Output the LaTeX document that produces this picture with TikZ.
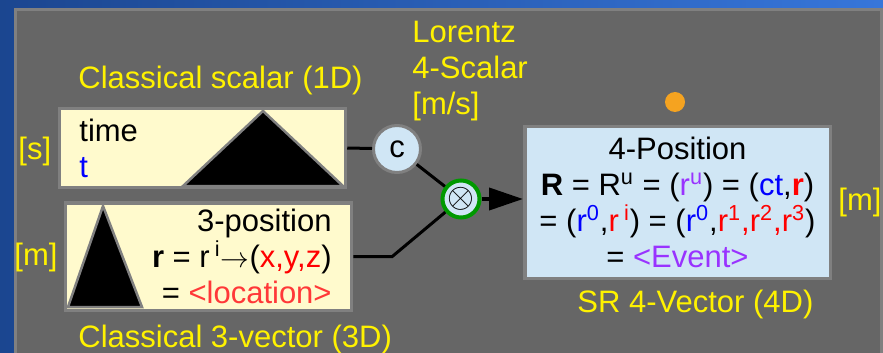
\documentclass[tikz,border=0pt]{standalone}
\usepackage{fontspec}
\setmainfont{Liberation Sans}
\usetikzlibrary{positioning,arrows.meta,calc}
\definecolor{panelgray}{HTML}{666666}
\definecolor{edgegray}{HTML}{808080}
\definecolor{lemon}{HTML}{FFFACD}
\definecolor{paleblue}{HTML}{D0E6F5}
\definecolor{bgdark}{HTML}{1B4690}
\definecolor{bglight}{HTML}{3776DA}
\definecolor{evpurple}{HTML}{9933FF}
\definecolor{locred}{HTML}{FF3838}
\definecolor{ringgreen}{HTML}{009900}
\definecolor{dotorange}{HTML}{F5A320}

\begin{document}
\begin{tikzpicture}[x=0.5pt, y=-0.5pt,
  every node/.style={font=\fontsize{15.5}{18}\selectfont},
  lbl/.style={inner sep=0pt, text=yellow, align=left},
  txt/.style={inner sep=0pt},
  vbox/.style={draw=edgegray, line width=1.75pt, inner sep=0pt},
  tri/.style={fill=black, draw=edgegray, line width=1.25pt, line join=miter},
  link/.style={draw=black, line width=1.5pt},
  arr/.style={-{Triangle[length=17pt, width=11pt]}, line width=2pt}
]
  \useasboundingbox (0,0) rectangle (883,353);
  \clip (0,0) rectangle (883,353);

  % Background and panel
  \shade[left color=bgdark, right color=bglight] (0,0) rectangle (883,353);
  \draw[fill=panelgray, draw=edgegray, line width=1.5pt] (15.5,9.5) rectangle (881.5,380);

  % Classical scalar box
  \node[vbox, fill=lemon, minimum width=143pt, minimum height=39.5pt] (scalar) at (202.5,148) {};
  \filldraw[tri] (183,186) -- (263,111) -- (343,186) -- cycle;
  \node[txt, anchor=base west, align=left] (time) at (79,177) {time\\\textcolor{blue}{t}};
  \node[lbl, anchor=base west] (scalarlbl) at (78,89) {Classical scalar (1D)};
  \node[lbl, anchor=base west] (sunit) at (18,160) {[s]};

  % Classical 3-vector box
  \node[vbox, fill=lemon, minimum width=143pt, minimum height=53.75pt] (vec3) at (208.5,256.5) {};
  \filldraw[tri] (68,307) -- (103,206) -- (142,307) -- cycle;
  \node[txt, anchor=base east, align=right] (pos3) at (332,303)
    {3-position\\
     \textbf{r} = r\,\textsuperscript{i}$\rightarrow$(\textcolor{red}{x,y,z})\\
     = \textcolor{locred}{<location>}};
  \node[lbl, anchor=base west] (vec3lbl) at (78,347) {Classical 3-vector (3D)};
  \node[lbl, anchor=base west] (munit) at (14,265) {[m]};

  % Lorentz scalar c and product
  \node[lbl, anchor=base west] (lorentz) at (412,115) {Lorentz\\4-Scalar\\{}[m/s]};
  \node[circle, draw=edgegray, line width=1.5pt, fill=paleblue, minimum size=23.5pt, inner sep=0pt] (c) at (397,149) {c};
  \node[circle, draw=ringgreen, line width=2pt, fill=paleblue, minimum size=18.5pt, inner sep=0pt,
        font=\fontsize{18}{18}\selectfont] (xo) at (461,199) {$\otimes$};

  % SR 4-vector box
  \node[vbox, fill=paleblue, minimum width=152.75pt, minimum height=75.75pt] (pos4) at (677.5,202.5) {};
  \node[txt, anchor=base, align=center] (pos4txt) at (677.5,267)
    {4-Position\\
     \textbf{R} = R\textsuperscript{u} = (\textcolor{evpurple}{r\textsuperscript{u}}) = (\textcolor{blue}{ct},\textcolor{red}{\textbf{r}})\\
     = (\textcolor{blue}{r\textsuperscript{0}},\textcolor{red}{r\,\textsuperscript{i}}) = (\textcolor{blue}{r\textsuperscript{0}},\textcolor{red}{r\textsuperscript{1},r\textsuperscript{2},r\textsuperscript{3}})\\
     = \textcolor{evpurple}{<Event>}};
  \node[lbl, anchor=base west] (pos4lbl) at (577,312) {SR 4-Vector (4D)};
  \node[lbl, anchor=base west] (munit4) at (838,210) {[m]};
  \node[circle, fill=dotorange, minimum size=10pt, inner sep=0pt] (dot) at (675,102) {};

  % Connectors
  \draw[link] (scalar.east) -- (c);
  \draw[link] (c) -- (xo);
  \draw[link] (vec3.east) -- ++(39,0) -- (xo);
  \draw[arr] (xo.east) -- (xo.east -| pos4.west);
\end{tikzpicture}
\end{document}
